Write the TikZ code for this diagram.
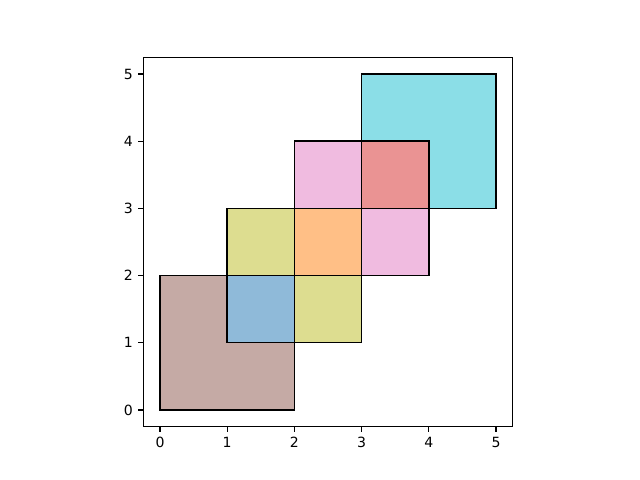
\documentclass[tikz,border=0pt]{standalone}
\usepackage{fontspec}
\setmainfont{DejaVu Sans}
\definecolor{PatchBrown}{HTML}{C5AAA5}
\definecolor{PatchBlue}{HTML}{8FBAD9}
\definecolor{PatchOlive}{HTML}{DDDD90}
\definecolor{PatchOrange}{HTML}{FFBF86}
\definecolor{PatchPink}{HTML}{F0BBE0}
\definecolor{PatchRed}{HTML}{EA9393}
\definecolor{PatchCyan}{HTML}{8BDEE7}
\usetikzlibrary{positioning}
\tikzset{
  % Patch style
  patch/.style={draw=black, line width=1pt, line join=miter},
  % Axis styles
  axisframe/.style={draw=black, line width=0.8pt},
  ticklabel/.style={font=\fontsize{10}{12}\selectfont, inner sep=0pt}
}
\begin{document}
\begin{tikzpicture}[x=1.68cm, y=1.68cm]
  \useasboundingbox (-2.381,-1.042) rectangle (7.143,6.101);

  % Big squares
  \filldraw[patch, fill=PatchBrown] (0,0) rectangle (2,2);
  \filldraw[patch, fill=PatchCyan] (3,3) rectangle (5,5);

  % Small cells
  \filldraw[patch, fill=PatchBlue] (1,1) rectangle (2,2);
  \filldraw[patch, fill=PatchOlive] (1,2) rectangle (2,3);
  \filldraw[patch, fill=PatchOlive] (2,1) rectangle (3,2);
  \filldraw[patch, fill=PatchOrange] (2,2) rectangle (3,3);
  \filldraw[patch, fill=PatchPink] (2,3) rectangle (3,4);
  \filldraw[patch, fill=PatchPink] (3,2) rectangle (4,3);
  \filldraw[patch, fill=PatchRed] (3,3) rectangle (4,4);

  % Axes
  \draw[axisframe] (-0.25,-0.25) rectangle (5.25,5.25);
  \foreach \v in {0,...,5} {
    \draw[axisframe] (\v,-0.25) -- ++(0,-3.5pt)
      node[ticklabel, below=3.5pt] (xt\v) {\v};
    \draw[axisframe] (-0.25,\v) -- ++(-3.5pt,0)
      node[ticklabel, left=3.5pt] (yt\v) {\v};
  }
\end{tikzpicture}
\end{document}
